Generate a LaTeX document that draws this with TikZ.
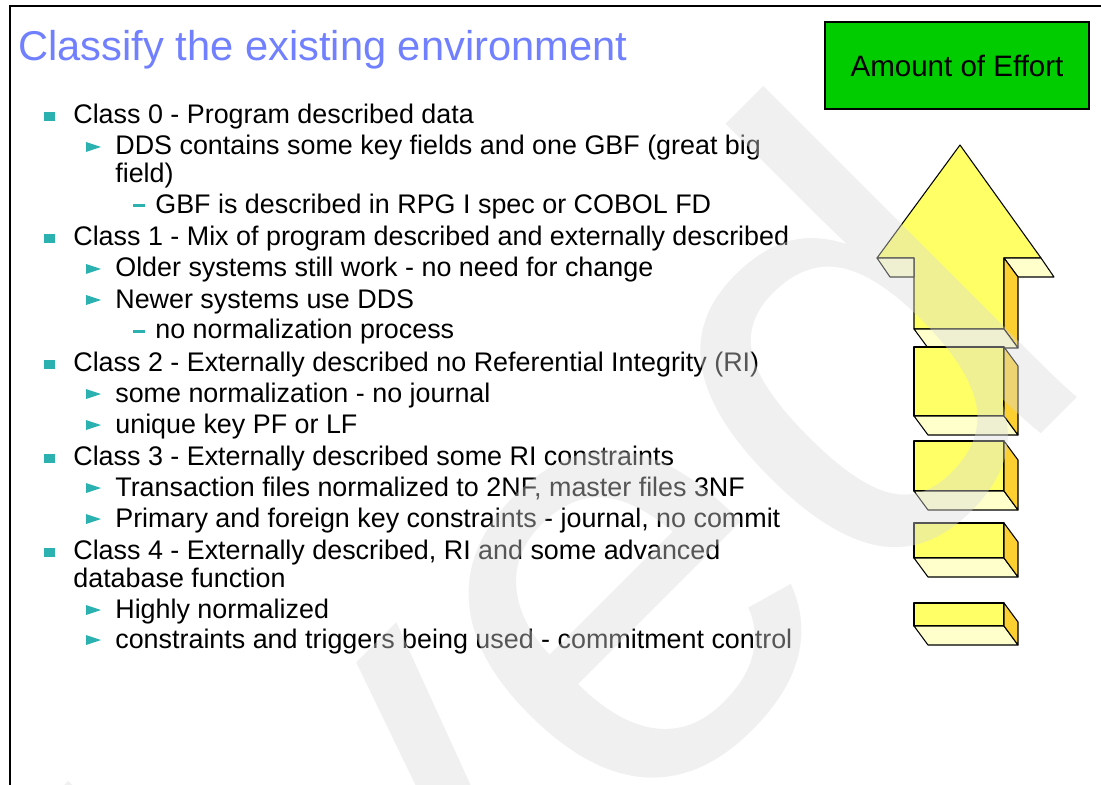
\documentclass[tikz,border=0pt]{standalone}
\usepackage{fontspec}
\setmainfont{Liberation Sans}
\definecolor{titleblue}{RGB}{112,128,255}
\definecolor{bullteal}{RGB}{43,178,176}
\definecolor{boxgreen}{RGB}{0,204,0}
\definecolor{arrfront}{RGB}{255,255,102}
\definecolor{arrlight}{RGB}{255,255,204}
\definecolor{arrside}{RGB}{252,208,48}

\begin{document}
\begin{tikzpicture}[x=0.2mm, y=-0.2mm,
		txt/.style={anchor=base west, inner sep=0pt, font=\fontsize{15.3}{18}\selectfont},
		face/.style={draw=black, line width=0.6pt, line join=round}]
				\useasboundingbox (0,0) rectangle (1101,785);
				\draw[line width=0.85pt] (10,785) -- (10,6) -- (1101,6);
				\node[anchor=base west, inner sep=0pt, text=titleblue, font=\fontsize{23.7}{28}\selectfont] (title) at (18,61) {Classify the existing environment};
				% bullet list
				\fill[bullteal] (44,112.5) rectangle (54.5,121.5);
				\node[txt] (cls0) at (73,124) {Class 0 - Program described data};
				\fill[bullteal] (86,142) -- (101,147) -- (86,152) -- cycle;
				\node[txt] (dds) at (115,155) {DDS contains some key fields and one GBF (great big};
				\node[txt] (field) at (115,183) {field)};
				\fill[bullteal] (133,204.5) rectangle (145,207.5);
				\node[txt] (gbf) at (155,214) {GBF is described in RPG I spec or COBOL FD};
				\fill[bullteal] (44,234.5) rectangle (54.5,243.5);
				\node[txt] (cls1) at (73,246) {Class 1 - Mix of program described and externally described};
				\fill[bullteal] (86,264) -- (101,269) -- (86,274) -- cycle;
				\node[txt] (older) at (115,277) {Older systems still work - no need for change};
				\fill[bullteal] (86,295) -- (101,300) -- (86,305) -- cycle;
				\node[txt] (newer) at (115,308) {Newer systems use DDS};
				\fill[bullteal] (133,329.5) rectangle (145,332.5);
				\node[txt] (nonorm) at (155,339) {no normalization process};
				\fill[bullteal] (44,359.5) rectangle (54.5,368.5);
				\node[txt] (cls2) at (73,371) {Class 2 - Externally described no Referential Integrity (RI)};
				\fill[bullteal] (86,389) -- (101,394) -- (86,399) -- cycle;
				\node[txt] (somenorm) at (115,402) {some normalization - no journal};
				\fill[bullteal] (86,420) -- (101,425) -- (86,430) -- cycle;
				\node[txt] (unique) at (115,433) {unique key PF or LF};
				\fill[bullteal] (44,453.5) rectangle (54.5,462.5);
				\node[txt] (cls3) at (73,465) {Class 3 - Externally described some RI constraints};
				\fill[bullteal] (86,483) -- (101,488) -- (86,493) -- cycle;
				\node[txt] (trans) at (115,496) {Transaction files normalized to 2NF, master files 3NF};
				\fill[bullteal] (86,514) -- (101,519) -- (86,524) -- cycle;
				\node[txt] (primary) at (115,527) {Primary and foreign key constraints - journal, no commit};
				\fill[bullteal] (44,547.5) rectangle (54.5,556.5);
				\node[txt] (cls4) at (73,559) {Class 4 - Externally described, RI and some advanced};
				\node[txt] (dbfunc) at (73,587) {database function};
				\fill[bullteal] (86,605) -- (101,610) -- (86,615) -- cycle;
				\node[txt] (highly) at (115,618) {Highly normalized};
				\fill[bullteal] (86,635) -- (101,640) -- (86,645) -- cycle;
				\node[txt] (trig) at (115,648) {constraints and triggers being used - commitment control};
				% effort box and arrow
				\node[draw=black, line width=0.6pt, fill=boxgreen, minimum width=52.8mm, minimum height=17.4mm, inner sep=0pt, font=\fontsize{16.8}{20}\selectfont] (effort) at (957,65.5) {Amount of Effort};
				\filldraw[face, fill=arrfront] (914,258) -- (877,258) -- (960,145) -- (1041,258) -- (1004,258) -- (1004,329) -- (914,329) -- cycle;
				\filldraw[face, fill=arrlight] (877,258) -- (890,277) -- (914,277) -- (914,258) -- cycle;
				\filldraw[face, fill=arrlight] (1004,258) -- (1041,258) -- (1054,277) -- (1018,277) -- cycle;
				\filldraw[face, fill=arrside] (1004,258) -- (1018,277) -- (1018,348) -- (1004,329) -- cycle;
				\filldraw[face, fill=arrlight] (914,329) -- (1004,329) -- (1018,348) -- (928,348) -- cycle;
				\filldraw[face, fill=arrfront] (914,347) rectangle (1004,416);
				\filldraw[face, fill=arrlight] (914,416) -- (1004,416) -- (1018,435) -- (928,435) -- cycle;
				\filldraw[face, fill=arrside] (1004,347) -- (1018,366) -- (1018,435) -- (1004,416) -- cycle;
				\filldraw[face, fill=arrfront] (914,441) rectangle (1004,491);
				\filldraw[face, fill=arrlight] (914,491) -- (1004,491) -- (1018,510) -- (928,510) -- cycle;
				\filldraw[face, fill=arrside] (1004,441) -- (1018,460) -- (1018,510) -- (1004,491) -- cycle;
				\filldraw[face, fill=arrfront] (914,523) rectangle (1004,558);
				\filldraw[face, fill=arrlight] (914,558) -- (1004,558) -- (1018,577) -- (928,577) -- cycle;
				\filldraw[face, fill=arrside] (1004,523) -- (1018,542) -- (1018,577) -- (1004,558) -- cycle;
				\filldraw[face, fill=arrfront] (914,603) rectangle (1004,626);
				\filldraw[face, fill=arrlight] (914,626) -- (1004,626) -- (1018,645) -- (928,645) -- cycle;
				\filldraw[face, fill=arrside] (1004,603) -- (1018,622) -- (1018,645) -- (1004,626) -- cycle;
				% watermark on top
				\begin{scope}
					\clip (0,0) rectangle (1101,785);
					\node[rotate=45, anchor=base west, inner sep=0pt, text=black!15, text opacity=0.4, font=\fontsize{347}{347}\selectfont] (stamp) at (-572,2047) {Archived};
				\end{scope}
			\end{tikzpicture}
\end{document}
